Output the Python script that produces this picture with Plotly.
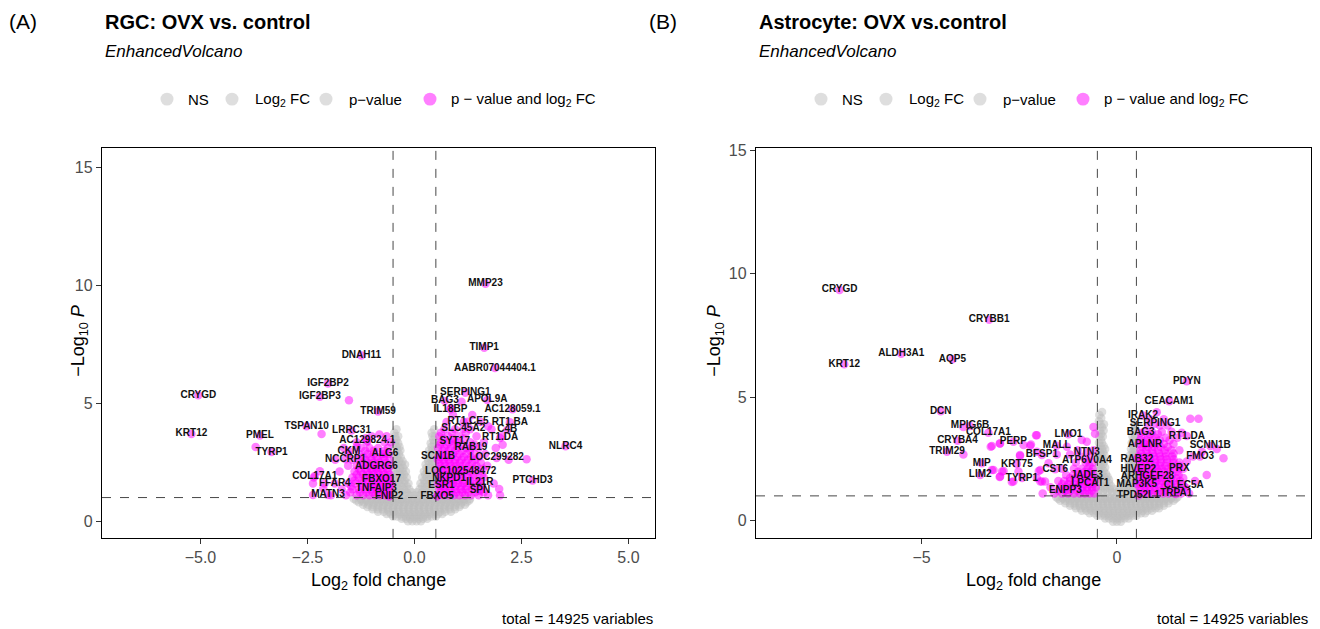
import plotly.graph_objects as go

W, H = 1320, 629
FONT = "Liberation Sans, Arial, Helvetica, sans-serif"
GREY = "#bebebe"
MAGENTA = "#ff00ff"

# ---------------- (A) RGC: OVX vs. control ----------------
rgc_genes = ["MMP23", "TIMP1", "AABR07044404.1", "SERPING1", "BAG3", "APOL9A", "IL18BP",
             "AC128059.1", "RT1.CE5", "RT1.BA", "SLC45A2", "C4B", "RT1.DA", "SYT17", "RAB19",
             "NLRC4", "SCN1B", "LOC299282", "LOC102548472", "NKPD1", "PTCHD3", "IL21R", "ESR1",
             "SPN", "FBXO5", "CRYGD", "KRT12", "PMEL", "TYRP1", "IGF2BP2", "IGF2BP3", "DNAH11",
             "TRIM59", "TSPAN10", "LRRC31", "AC129824.1", "CKM", "ALG6", "NCCRP1", "ADGRG6",
             "COL17A1", "FBXO17", "FFAR4", "TNFAIP3", "MATN3", "FNIP2"]
rgc_fc = [1.66, 1.63, 1.88, 1.19, 0.71, 1.70, 0.84,
          2.29, 1.25, 2.23, 1.14, 2.17, 2.00, 0.94, 1.32,
          3.53, 0.55, 1.92, 1.08, 0.81, 2.76, 1.53, 0.63,
          1.53, 0.53, -5.05, -5.21, -3.61, -3.34, -2.02, -2.21, -1.24,
          -0.85, -2.52, -1.47, -1.10, -1.53, -0.69, -1.61, -0.89,
          -2.33, -0.77, -1.86, -0.89, -2.02, -0.59]
rgc_p = [10.07, 7.35, 6.49, 5.45, 5.10, 5.14, 4.74,
         4.75, 4.22, 4.19, 3.91, 3.87, 3.53, 3.39, 3.11,
         3.18, 2.72, 2.68, 2.12, 1.81, 1.72, 1.64, 1.50,
         1.28, 1.05, 5.34, 3.70, 3.63, 2.93, 5.84, 5.28, 7.03,
         4.65, 4.02, 3.84, 3.40, 2.97, 2.86, 2.62, 2.30,
         1.91, 1.76, 1.60, 1.39, 1.11, 1.05]

# other significant genes (|log2FC| > 0.5 and P < 0.1), grouped by -log10 P
rgc_sig_rows = [
    (1.10, [-1.95, -1.6, -1.35, -1.2, -1.05, -0.92, -0.8, -0.68, -0.58,
            0.55, 0.68, 0.8, 0.92, 1.05, 1.18, 1.32, 1.5, 1.72, 2.0]),
    (1.22, [-1.5, -1.28, -1.12, -0.98, -0.86, -0.74, -0.62,
            0.62, 0.74, 0.86, 0.98, 1.12, 1.26, 1.42, 1.62]),
    (1.35, [-1.7, -1.45, -1.3, -1.15, -1.02, -0.9, -0.78, -0.66, -0.56,
            0.58, 0.7, 0.82, 0.95, 1.08, 1.2, 1.35, 1.55]),
    (1.48, [-1.48, -1.22, -1.06, -0.94, -0.82, -0.7, -0.58,
            0.6, 0.72, 0.84, 0.96, 1.1, 1.22, 1.38, 1.58]),
    (1.60, [-2.1, -1.55, -1.38, -1.22, -1.1, -0.98, -0.86, -0.74, -0.62, -0.54,
            0.55, 0.66, 0.78, 0.9, 1.02, 1.14, 1.28, 1.45, 1.85]),
    (1.72, [-1.4, -1.22, -1.06, -0.92, -0.8, -0.68, -0.58,
            0.62, 0.74, 0.86, 0.98, 1.12, 1.3, 1.5]),
    (1.85, [-2.35, -1.45, -1.3, -1.15, -1.03, -0.92, -0.8, -0.68, -0.58,
            0.6, 0.72, 0.84, 0.96, 1.1, 1.25, 1.4, 1.62]),
    (1.98, [-1.35, -1.2, -1.06, -0.94, -0.82, -0.7, -0.58,
            0.6, 0.72, 0.84, 0.96, 1.08, 1.22, 1.38, 1.58]),
    (2.10, [-1.75, -1.4, -1.25, -1.1, -0.98, -0.86, -0.74, -0.62,
            0.55, 0.66, 0.78, 0.9, 1.02, 1.15, 1.3, 1.5]),
    (2.22, [-1.3, -1.15, -1.02, -0.9, -0.78, -0.64,
            0.62, 0.74, 0.86, 0.98, 1.1, 1.24, 1.4, 1.6]),
    (2.35, [-1.55, -1.35, -1.2, -1.05, -0.92, -0.8, -0.68, -0.56,
            0.6, 0.72, 0.85, 0.98, 1.12, 1.28, 1.45, 1.7]),
    (2.48, [-1.25, -1.1, -0.96, -0.82, -0.66,
            0.58, 0.7, 0.82, 0.94, 1.06, 1.2, 1.35, 1.55]),
    (2.60, [-1.85, -1.45, -1.3, -1.15, -1.0, -0.85, -0.7, -0.58,
            0.55, 0.68, 0.8, 0.95, 1.1, 1.25, 1.42, 2.2]),
    (2.72, [-1.2, -1.02, -0.88, -0.72, 0.62, 0.74, 0.86, 1.0, 1.15, 1.32, 1.5]),
    (2.85, [-1.55, -1.3, -1.1, -0.95, -0.75, -0.6,
            0.6, 0.75, 0.9, 1.05, 1.22, 1.4, 1.65]),
    (2.98, [-1.15, -0.95, -0.7, 0.66, 0.8, 0.95, 1.12, 1.3]),
    (3.10, [-1.65, -1.25, -1.05, -0.85, -0.62,
            0.55, 0.7, 0.85, 1.0, 1.2, 1.5, 1.9]),
    (3.25, [0.6, 0.75, 0.92, 1.1, 1.4]),
    (3.35, [-1.35, -1.12, -0.7, -0.55, 0.62, 0.8, 1.0, 1.3, 1.62]),
    (3.50, [0.68, 0.9, 1.15]),
    (3.60, [-1.0, -0.65, 0.58, 0.78, 1.05, 1.45, 2.05]),
    (3.75, [0.62, 0.88, 1.2]),
    (3.90, [0.7, 0.95, 1.3, 1.8]),
    (4.20, [0.75, 1.15, 1.55]),
    (4.50, [0.9, 1.35]),
    (4.80, [0.85]),
]
rgc_sig_extra_fc = [-1.53, -0.82, -2.17, -2.21, -2.37, -2.13, -2.37, -1.14, -1.35, -3.71,
                    2.62, 1.98, 1.72, 2.06, 1.10]
rgc_sig_extra_p = [5.13, 3.67, 3.70, 2.12, 1.60, 1.39, 1.11, 3.52, 3.14, 3.14,
                   2.62, 1.36, 4.02, 3.24, 5.06]

# non-significant genes, grouped by -log10 P
rgc_ns_rows = [
    (0.00, [-0.15, -0.05, 0.05, 0.15]),
    (0.10, [-0.3, -0.2, -0.1, 0.0, 0.1, 0.2, 0.3]),
    (0.20, [-0.5, -0.4, -0.3, -0.2, -0.1, 0.0, 0.1, 0.2, 0.3, 0.4, 0.5]),
    (0.30, [-0.65, -0.55, -0.45, -0.35, -0.25, -0.15, -0.05, 0.05, 0.15, 0.25, 0.35, 0.45,
            0.55, 0.65]),
    (0.40, [-0.85, -0.72, -0.6, -0.48, -0.36, -0.24, -0.12, 0.0, 0.12, 0.24, 0.36, 0.48,
            0.6, 0.72, 0.85]),
    (0.50, [-0.98, -0.86, -0.74, -0.62, -0.5, -0.38, -0.26, -0.14, -0.02, 0.1, 0.22, 0.34,
            0.46, 0.58, 0.7, 0.82, 0.95]),
    (0.60, [-1.1, -0.98, -0.86, -0.74, -0.62, -0.5, -0.38, -0.26, -0.14, -0.02, 0.1, 0.22,
            0.34, 0.46, 0.58, 0.7, 0.82, 0.94, 1.05]),
    (0.70, [-1.2, -1.08, -0.96, -0.84, -0.72, -0.6, -0.48, -0.36, -0.24, -0.12, 0.0, 0.12,
            0.24, 0.36, 0.48, 0.6, 0.72, 0.84, 0.96, 1.08, 1.18]),
    (0.80, [-1.3, -1.18, -1.06, -0.94, -0.82, -0.7, -0.58, -0.46, -0.34, -0.22, -0.1, 0.02,
            0.14, 0.26, 0.38, 0.5, 0.62, 0.74, 0.86, 0.98, 1.1, 1.22]),
    (0.88, [-1.36, -1.24, -1.12, -1.0, -0.88, -0.76, -0.64, -0.52, -0.4, -0.28, -0.16, -0.04,
            0.08, 0.2, 0.32, 0.44, 0.56, 0.68, 0.8, 0.92, 1.04, 1.16, 1.28]),
    (0.95, [-1.42, -1.25, -1.12, -1.0, -0.88, -0.76, -0.64, -0.52, -0.4, -0.28, -0.16,
            -0.04, 0.08, 0.2, 0.32, 0.44, 0.56, 0.68, 0.8, 0.92, 1.04, 1.16, 1.3]),
    (1.10, [-0.48, -0.36, -0.24, -0.12, 0.0, 0.12, 0.24, 0.36, 0.48]),
    (1.22, [-0.42, -0.3, -0.18, -0.06, 0.06, 0.18, 0.3, 0.42]),
    (1.35, [-0.48, -0.36, -0.24, -0.12, 0.12, 0.24, 0.36, 0.48]),
    (1.48, [-0.42, -0.3, -0.18, 0.18, 0.3, 0.42]),
    (1.60, [-0.48, -0.36, -0.24, -0.14, 0.14, 0.24, 0.36, 0.48]),
    (1.72, [-0.43, -0.33, -0.23, 0.23, 0.33, 0.43]),
    (1.85, [-0.48, -0.38, -0.28, -0.18, 0.18, 0.28, 0.38, 0.48]),
    (1.98, [-0.43, -0.33, -0.24, 0.25, 0.35, 0.44]),
    (2.10, [-0.48, -0.38, -0.28, -0.2, 0.22, 0.3, 0.4, 0.48]),
    (2.25, [-0.44, -0.34, -0.26, 0.28, 0.38, 0.46]),
    (2.40, [-0.48, -0.4, -0.3, -0.22, 0.26, 0.34, 0.42, 0.48]),
    (2.55, [-0.44, -0.36, -0.28, 0.32, 0.42]),
    (2.70, [-0.48, -0.4, -0.32, 0.3, 0.38, 0.46]),
    (2.85, [-0.44, -0.36, 0.36, 0.44]),
    (3.00, [-0.47, -0.4, -0.33, 0.34, 0.42, 0.48]),
    (3.15, [-0.42, -0.35, 0.4]),
    (3.30, [-0.46, -0.38, 0.38, 0.46]),
    (3.45, [-0.42, 0.44]),
    (3.60, [-0.45, -0.38, 0.42, 0.48]),
    (3.75, [-0.47, 0.4]),
    (3.90, [-0.42, 0.46]),
]

# ---------------- (B) Astrocyte: OVX vs.control ----------------
ast_genes = ["CRYGD", "CRYBB1", "ALDH3A1", "AQP5", "KRT12", "DCN", "MPIG6B", "COL17A1",
             "CRYBA4", "PERP", "TRIM29", "MIP", "KRT75", "LIM2", "TYRP1", "LMO1", "MALL",
             "BFSP1", "NTN3", "ATP6V0A4", "CST6", "JADE3", "LPCAT1", "ENPP3", "PDYN",
             "CEACAM1", "IRAK2", "SERPING1", "BAG3", "RT1.DA", "APLNR", "SCNN1B", "FMO3",
             "RAB32", "PRX", "HIVEP2", "ARHGEF28", "CLEC5A", "MAP3K5", "TRPA1", "TPD52L1"]
ast_fc = [-7.10, -3.27, -5.52, -4.21, -6.98, -4.51, -3.76, -3.29,
          -4.08, -2.65, -4.35, -3.46, -2.56, -3.50, -2.43, -1.24, -1.54,
          -1.92, -0.77, -0.77, -1.58, -0.77, -0.68, -1.32, 1.79,
          1.34, 0.67, 0.98, 0.61, 1.79, 0.72, 2.39, 2.13,
          0.51, 1.60, 0.55, 0.78, 1.71, 0.51, 1.52, 0.55]
ast_p = [9.34, 8.13, 6.76, 6.53, 6.33, 4.43, 3.83, 3.56,
         3.23, 3.19, 2.79, 2.32, 2.29, 1.85, 1.72, 3.50, 3.03,
         2.66, 2.76, 2.43, 2.08, 1.83, 1.52, 1.22, 5.64,
         4.83, 4.26, 3.92, 3.55, 3.42, 3.10, 3.02, 2.59,
         2.49, 2.12, 2.05, 1.79, 1.41, 1.48, 1.08, 1.02]

ast_sig_rows = [
    (1.10, [-1.9, -1.6, -1.4, -1.25, -1.1, -0.95, -0.82, -0.7, -0.58,
            0.55, 0.68, 0.8, 0.92, 1.05, 1.18, 1.32, 1.48, 1.65, 1.85]),
    (1.22, [-1.5, -1.32, -1.18, -1.02, -0.88, -0.76, -0.64,
            0.62, 0.74, 0.86, 0.98, 1.12, 1.25, 1.4, 1.56, 1.75]),
    (1.35, [-1.7, -1.45, -1.3, -1.15, -1.0, -0.88, -0.76, -0.64, -0.54,
            0.58, 0.7, 0.82, 0.95, 1.08, 1.22, 1.38, 1.55, 1.75]),
    (1.48, [-1.4, -1.25, -1.1, -0.96, -0.84, -0.72, -0.6,
            0.6, 0.72, 0.84, 0.96, 1.1, 1.24, 1.38, 1.55]),
    (1.60, [-1.5, -1.35, -1.2, -1.05, -0.92, -0.8, -0.68, -0.56,
            0.55, 0.66, 0.78, 0.9, 1.02, 1.15, 1.3, 1.45, 1.62, 2.0]),
    (1.72, [-1.2, -1.05, -0.9, -0.78, -0.64,
            0.62, 0.74, 0.86, 0.98, 1.1, 1.22, 1.38, 1.52, 1.7]),
    (1.85, [-1.3, -1.12, -0.98, -0.85, -0.72, -0.6,
            0.6, 0.72, 0.84, 0.96, 1.1, 1.25, 1.4, 1.58]),
    (1.98, [-1.0, -0.82, -0.66, 0.6, 0.72, 0.84, 0.96, 1.08, 1.22, 1.36, 1.55]),
    (2.10, [-1.4, -1.1, -0.9, -0.75, -0.62,
            0.55, 0.66, 0.78, 0.9, 1.02, 1.15, 1.3, 1.48, 1.7]),
    (2.22, [-0.7, 0.62, 0.74, 0.86, 0.98, 1.1, 1.24, 1.4, 1.6]),
    (2.35, [-1.05, -0.8, -0.62, 0.6, 0.72, 0.85, 0.98, 1.12, 1.28, 1.45, 1.6]),
    (2.48, [0.6, 0.72, 0.85, 0.98, 1.12, 1.28, 1.45]),
    (2.60, [-0.95, -0.68, 0.55, 0.68, 0.8, 0.95, 1.1, 1.25, 1.42, 1.95]),
    (2.72, [0.62, 0.78, 0.92, 1.08, 1.25, 1.45]),
    (2.85, [-1.0, -0.6, 0.6, 0.75, 0.9, 1.05, 1.22, 1.4, 1.6]),
    (2.98, [0.65, 0.8, 0.95, 1.12, 1.3]),
    (3.10, [0.55, 0.7, 0.85, 1.0, 1.2, 1.45]),
    (3.25, [0.6, 0.75, 0.92, 1.1, 1.35]),
    (3.35, [0.62, 0.8, 1.0, 1.25, 1.55]),
    (3.50, [0.85, 1.05]),
    (3.60, [0.7, 0.9, 1.15, 1.4]),
    (3.85, [0.8, 1.1, 1.3]),
    (4.10, [0.85, 1.2]),
]
ast_sig_extra_fc = [-2.05, -2.20, -2.39, -2.48, -2.99, -3.20, -2.90, -2.99, -3.16, -2.52,
                    -2.65, -2.05, -1.92, -1.96, -1.75, -1.54, -1.20, -1.28, -0.90, -0.77,
                    -0.60, -0.56, -2.05, -3.23, -3.00, -2.22, -2.07, -2.48, -3.20, -2.94,
                    -3.00, -2.69, -3.93, -3.93, -1.96, -1.84, -2.00,
                    1.88, 2.09, 2.73, 2.56, 1.02, 1.66, 2.30, 2.18, 1.79]
ast_sig_extra_p = [3.46, 3.08, 3.06, 2.66, 3.12, 3.02, 2.01, 1.79, 2.05, 1.99,
                   1.58, 1.72, 1.58, 2.05, 2.32, 2.68, 2.68, 2.99, 3.26, 3.19,
                   3.79, 3.52, 2.79, 2.99, 3.12, 3.03, 3.46, 2.62, 2.05, 1.99,
                   1.76, 1.56, 2.68, 3.79, 1.58, 1.58, 2.01,
                   4.12, 4.12, 2.52, 2.90, 4.39, 3.56, 1.85, 2.79, 2.39]

ast_ns_rows = [
    (-0.05, [-0.1, 0.0, 0.1]),
    (0.08, [-0.3, -0.2, -0.1, 0.0, 0.1, 0.2, 0.3]),
    (0.20, [-0.5, -0.4, -0.3, -0.2, -0.1, 0.0, 0.1, 0.2, 0.3, 0.4, 0.5]),
    (0.30, [-0.7, -0.58, -0.46, -0.34, -0.22, -0.1, 0.02, 0.14, 0.26, 0.38, 0.5, 0.62, 0.72]),
    (0.40, [-0.9, -0.78, -0.66, -0.54, -0.42, -0.3, -0.18, -0.06, 0.06, 0.18, 0.3, 0.42,
            0.54, 0.66, 0.78, 0.9]),
    (0.50, [-1.05, -0.93, -0.81, -0.69, -0.57, -0.45, -0.33, -0.21, -0.09, 0.03, 0.15, 0.27,
            0.39, 0.51, 0.63, 0.75, 0.87, 0.99, 1.08]),
    (0.60, [-1.2, -1.08, -0.96, -0.84, -0.72, -0.6, -0.48, -0.36, -0.24, -0.12, 0.0, 0.12,
            0.24, 0.36, 0.48, 0.6, 0.72, 0.84, 0.96, 1.08, 1.2]),
    (0.70, [-1.32, -1.2, -1.08, -0.96, -0.84, -0.72, -0.6, -0.48, -0.36, -0.24, -0.12, 0.0,
            0.12, 0.24, 0.36, 0.48, 0.6, 0.72, 0.84, 0.96, 1.08, 1.2, 1.32]),
    (0.80, [-1.45, -1.32, -1.2, -1.08, -0.96, -0.84, -0.72, -0.6, -0.48, -0.36, -0.24, -0.12,
            0.0, 0.12, 0.24, 0.36, 0.48, 0.6, 0.72, 0.84, 0.96, 1.08, 1.2, 1.32, 1.45]),
    (0.88, [-1.5, -1.38, -1.26, -1.14, -1.02, -0.9, -0.78, -0.66, -0.54, -0.42, -0.3, -0.18,
            -0.06, 0.06, 0.18, 0.3, 0.42, 0.54, 0.66, 0.78, 0.9, 1.02, 1.14, 1.26, 1.38, 1.5]),
    (0.95, [-1.55, -1.4, -1.26, -1.14, -1.02, -0.9, -0.78, -0.66, -0.54, -0.42, -0.3, -0.18,
            -0.06, 0.06, 0.18, 0.3, 0.42, 0.54, 0.66, 0.78, 0.9, 1.02, 1.14, 1.26, 1.4, 1.55]),
    (1.15, [-0.48, -0.36, -0.24, -0.12, 0.0, 0.12, 0.24, 0.36, 0.48]),
    (1.28, [-0.42, -0.3, -0.18, -0.06, 0.06, 0.18, 0.3, 0.42]),
    (1.40, [-0.48, -0.36, -0.26, -0.15, 0.15, 0.26, 0.36, 0.48]),
    (1.52, [-0.43, -0.31, -0.2, 0.2, 0.31, 0.43]),
    (1.65, [-0.48, -0.38, -0.28, -0.2, 0.2, 0.28, 0.38, 0.48]),
    (1.78, [-0.43, -0.33, -0.24, 0.24, 0.33, 0.43]),
    (1.90, [-0.48, -0.38, -0.28, 0.25, 0.35, 0.45]),
    (2.02, [-0.44, -0.34, 0.3, 0.4]),
    (2.15, [-0.48, -0.4, -0.3, 0.28, 0.38, 0.48]),
    (2.28, [-0.44, -0.35, 0.33, 0.43]),
    (2.40, [-0.48, -0.4, -0.32, 0.3, 0.4, 0.48]),
    (2.52, [-0.44, -0.36, 0.36, 0.45]),
    (2.65, [-0.48, -0.4, -0.32, 0.34, 0.42, 0.49]),
    (2.78, [-0.43, -0.35, 0.4, 0.47]),
    (2.90, [-0.47, -0.38, -0.3, 0.36, 0.44]),
    (3.02, [-0.42, -0.34, 0.42]),
    (3.15, [-0.46, -0.38, 0.38, 0.46]),
    (3.28, [-0.41, 0.43]),
    (3.40, [-0.45, -0.36, 0.4, 0.47]),
    (3.52, [-0.4, 0.46]),
    (3.65, [-0.44, -0.34, 0.42]),
    (3.78, [-0.38, 0.47]),
    (3.90, [-0.42, -0.33, 0.45]),
    (4.02, [-0.46]),
    (4.15, [-0.4]),
    (4.28, [-0.45]),
    (4.40, [-0.38]),
]

legend_labels = ["NS", "Log<sub>2</sub> FC", "p\u2212value", "p \u2212 value and log<sub>2</sub> FC"]
legend_colors = [GREY, GREY, GREY, MAGENTA]


def unroll(rows):
    xs, ys = [], []
    for yv, xlist in rows:
        for xv in xlist:
            xs.append(xv)
            ys.append(yv)
    return xs, ys


def px_x(p):
    return p / W


def px_y(p):
    return 1 - p / H


fig = go.Figure()

panels = [
    dict(xa="x", ya="y", genes=rgc_genes, fc=rgc_fc, p=rgc_p, sig=rgc_sig_rows,
         efc=rgc_sig_extra_fc, ep=rgc_sig_extra_p, ns=rgc_ns_rows),
    dict(xa="x2", ya="y2", genes=ast_genes, fc=ast_fc, p=ast_p, sig=ast_sig_rows,
         efc=ast_sig_extra_fc, ep=ast_sig_extra_p, ns=ast_ns_rows),
]

for pn in panels:
    nsx, nsy = unroll(pn["ns"])
    fig.add_trace(go.Scatter(
        x=nsx, y=nsy, mode="markers",
        marker=dict(color=GREY, size=8.5, opacity=0.5, line=dict(width=0)),
        xaxis=pn["xa"], yaxis=pn["ya"], showlegend=False))
    sx, sy = unroll(pn["sig"])
    sx = sx + pn["efc"] + pn["fc"]
    sy = sy + pn["ep"] + pn["p"]
    fig.add_trace(go.Scatter(
        x=sx, y=sy, mode="markers",
        marker=dict(color=MAGENTA, size=8.5, opacity=0.5, line=dict(width=0)),
        xaxis=pn["xa"], yaxis=pn["ya"], showlegend=False))
    # gene labels, centred on their points
    fig.add_trace(go.Scatter(
        x=pn["fc"], y=pn["p"], mode="text",
        text=["<b>%s</b>" % g for g in pn["genes"]],
        textposition="middle center",
        textfont=dict(family=FONT, size=10, color="#111111"),
        xaxis=pn["xa"], yaxis=pn["ya"], showlegend=False, hoverinfo="skip"))

axis_style = dict(
    showline=True, linecolor="black", linewidth=1.4, mirror=True,
    ticks="outside", ticklen=5, tickwidth=1.1, tickcolor="#333333",
    tickfont=dict(family=FONT, size=16, color="#4d4d4d"),
    showgrid=False, zeroline=False, fixedrange=True)

y_dom = [px_y(537), px_y(143)]

fig.update_layout(
    width=W, height=H, autosize=False,
    margin=dict(l=0, r=0, t=0, b=0),
    paper_bgcolor="white", plot_bgcolor="white",
    xaxis=dict(domain=[px_x(102), px_x(655)], range=[-7.30, 5.62],
               tickvals=[-5, -2.5, 0, 2.5, 5],
               ticktext=["\u22125.0", "\u22122.5", "0.0", "2.5", "5.0"], **axis_style),
    yaxis=dict(domain=y_dom, range=[-0.71, 15.84], tickvals=[0, 5, 10, 15],
               ticktext=["0", "5", "10", "15"], **axis_style),
    xaxis2=dict(domain=[px_x(756), px_x(1311)], range=[-9.24, 4.97],
                tickvals=[-5, 0], ticktext=["\u22125", "0"], anchor="y2", **axis_style),
    yaxis2=dict(domain=y_dom, range=[-0.70, 15.10], tickvals=[0, 5, 10, 15],
                ticktext=["0", "5", "10", "15"], anchor="x2", **axis_style),
)

# cut-off lines: |log2FC| = 0.5 and P = 0.1
shapes = []
for xa, ya in [("x", "y"), ("x2", "y2")]:
    for xv in (-0.5, 0.5):
        shapes.append(dict(type="line", xref=xa, yref=ya + " domain", x0=xv, x1=xv, y0=0, y1=1,
                           line=dict(color="#333333", width=0.9, dash="dash")))
    shapes.append(dict(type="line", xref=xa + " domain", yref=ya, x0=0, x1=1, y0=1, y1=1,
                       line=dict(color="#333333", width=0.9, dash="dash")))

annotations = []


def add_text(text, x, y, size, xanchor="left", color="black", angle=0):
    annotations.append(dict(text=text, x=px_x(x), y=px_y(y), xref="paper", yref="paper",
                            xanchor=xanchor, yanchor="middle", showarrow=False,
                            textangle=angle,
                            font=dict(family=FONT, size=size, color=color)))


headers = [
    ("(A)", "<b>RGC: OVX vs. control</b>", 7, 103, 378.5,
     [167, 232, 326, 430], [186, 253, 347, 449], 655),
    ("(B)", "<b>Astrocyte: OVX vs.control</b>", 647, 757, 1033.5,
     [821, 886, 980, 1083], [840, 907, 1001, 1102], 1310),
]
for tag, title, tag_x, title_x, mid_x, dots, texts, right_x in headers:
    add_text(tag, tag_x, 16, 21)
    add_text(title, title_x, 16, 20)
    add_text("<i>EnhancedVolcano</i>", title_x, 46, 17)
    for lab, col, cx, tx in zip(legend_labels, legend_colors, dots, texts):
        r = 6.5
        shapes.append(dict(type="circle", xref="paper", yref="paper",
                           x0=px_x(cx - r), x1=px_x(cx + r), y0=px_y(94 + r), y1=px_y(94 - r),
                           fillcolor=col, opacity=0.5, line=dict(width=0)))
        add_text(lab, tx, 94, 15)
    add_text("Log<sub>2</sub> fold change", mid_x, 581, 18, xanchor="center")
    add_text("total = 14925 variables", right_x, 618, 15, xanchor="right")

add_text("\u2212Log<sub>10</sub> <i>P</i>", 80, 338, 18, xanchor="center", angle=-90)
add_text("\u2212Log<sub>10</sub> <i>P</i>", 716, 338, 18, xanchor="center", angle=-90)

fig.update_layout(shapes=shapes, annotations=annotations)

fig.write_html("out.html")
